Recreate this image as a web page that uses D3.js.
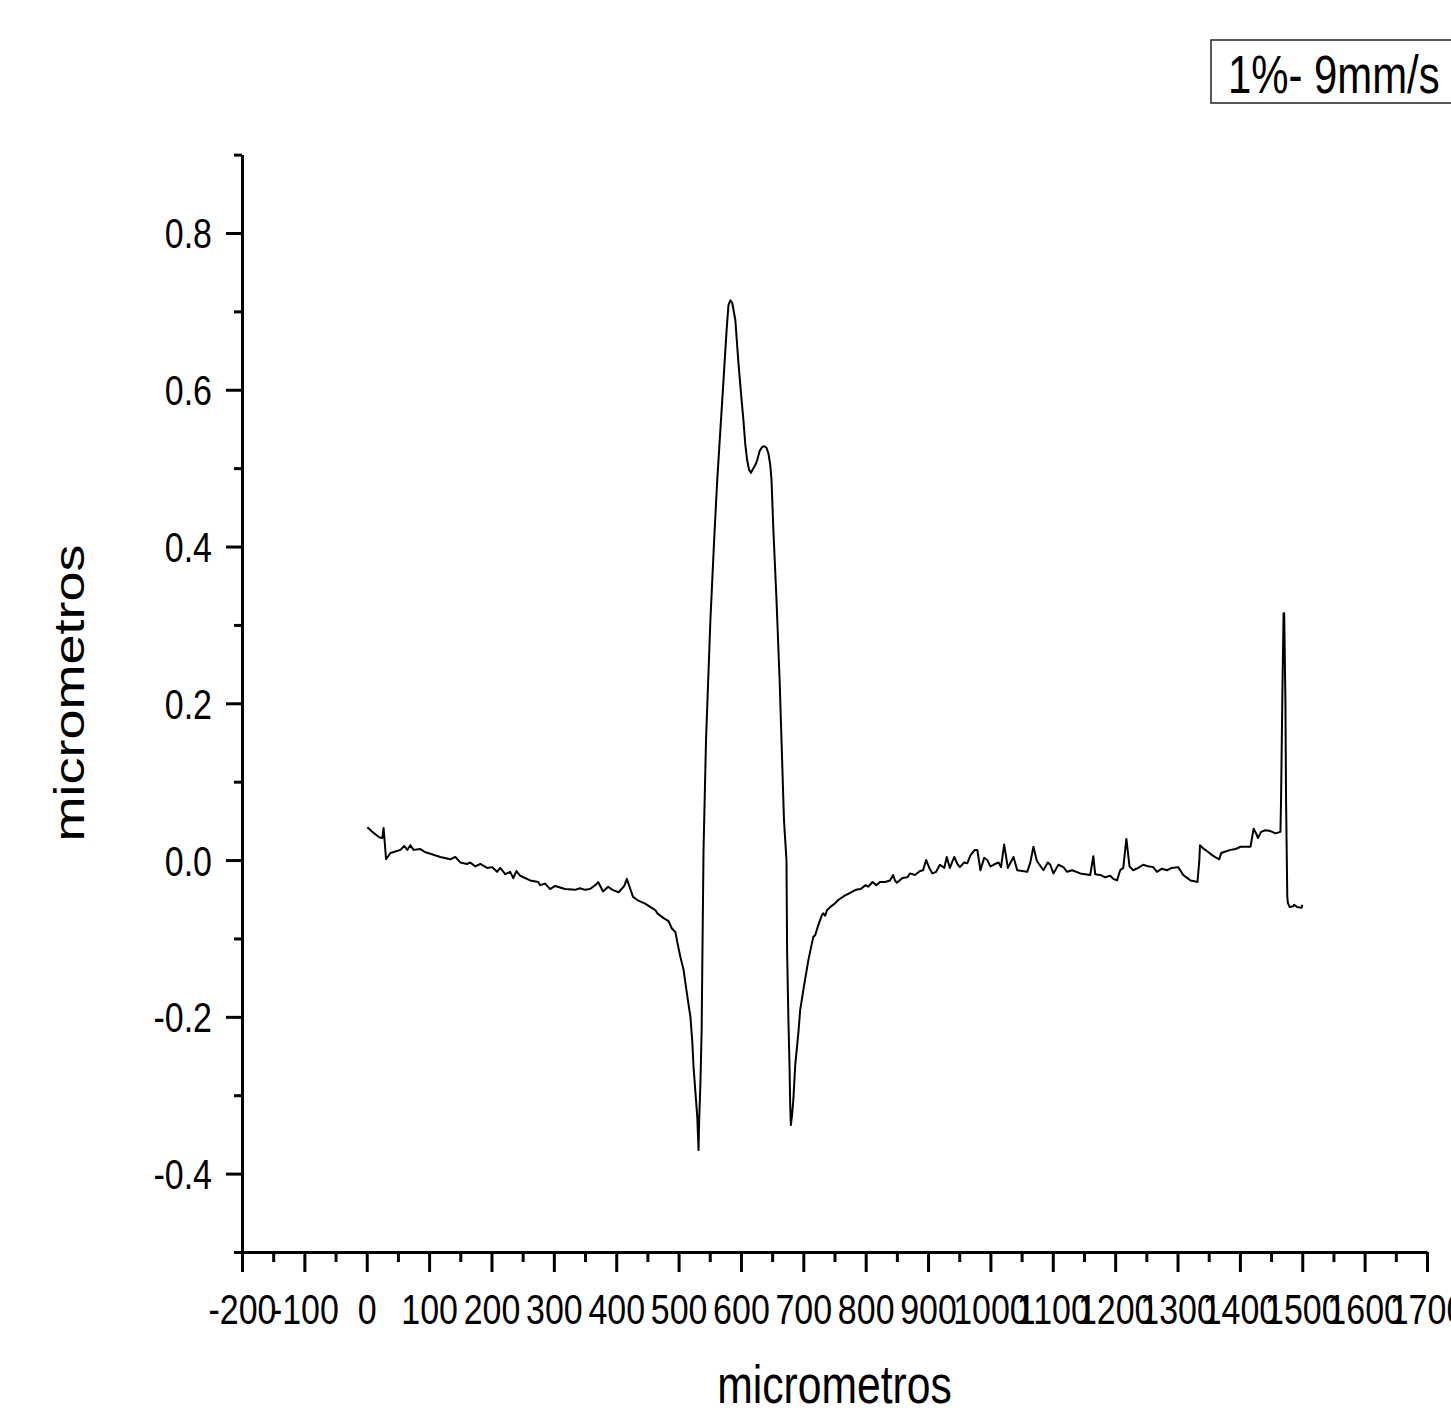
<!DOCTYPE html>
<html>
<head>
<meta charset="utf-8">
<script src="https://cdn.jsdelivr.net/npm/d3@7"></script>
<style>
  body { margin: 0; background: #fff; }
  text { font-family: "Liberation Sans", Arial, sans-serif; fill: #000; }
</style>
</head>
<body>
<svg width="1451" height="1414"></svg>
<script>
// Data: profile readings (micrometros vs micrometros)
const profileX = [1, 9, 20, 25, 27, 31, 38, 46, 54, 60, 65, 70, 75, 86, 94, 102, 118, 134, 142, 150, 161, 166, 174, 182, 193, 201, 209, 214, 222, 230, 235, 240, 246, 262, 275, 278, 286, 294, 302, 318, 334, 342, 350, 358, 368, 371, 379, 387, 394, 404, 413, 417, 420, 427, 434, 447, 455, 463, 466, 476, 484, 489, 495, 498, 503, 508, 511, 515, 519, 522, 524, 527, 530, 532, 533, 535, 537, 538, 540, 544, 551, 557, 562, 572, 577, 580, 583, 586, 591, 596, 601, 604, 607, 610, 613, 616, 620, 623, 626, 630, 634, 637, 641, 644, 647, 649, 652, 657, 662, 666, 669, 673, 674, 676, 678, 679, 680, 682, 684, 687, 692, 695, 700, 708, 716, 719, 724, 730, 732, 735, 738, 743, 751, 756, 767, 775, 784, 792, 800, 804, 811, 817, 823, 831, 839, 844, 847, 850, 859, 867, 871, 879, 887, 892, 897, 902, 907, 913, 919, 926, 930, 935, 942, 947, 951, 958, 963, 968, 975, 979, 984, 990, 995, 1000, 1005, 1013, 1017, 1022, 1028, 1037, 1043, 1051, 1059, 1064, 1069, 1074, 1077, 1085, 1092, 1096, 1101, 1109, 1117, 1123, 1131, 1144, 1152, 1160, 1165, 1168, 1176, 1184, 1192, 1197, 1203, 1208, 1213, 1218, 1223, 1229, 1237, 1245, 1253, 1261, 1267, 1275, 1283, 1291, 1301, 1306, 1309, 1316, 1321, 1327, 1332, 1335, 1336, 1341, 1348, 1356, 1362, 1367, 1370, 1377, 1385, 1393, 1401, 1409, 1417, 1422, 1426, 1429, 1434, 1441, 1449, 1457, 1465, 1466, 1468, 1470, 1471, 1473, 1474, 1476, 1477, 1480, 1485, 1487, 1492, 1499, 1500];
const profileY = [0.042, 0.036, 0.029, 0.028, 0.041, 0.001, 0.009, 0.011, 0.013, 0.018, 0.013, 0.019, 0.013, 0.014, 0.010, 0.008, 0.004, 0.001, 0.004, -0.003, -0.005, -0.003, -0.008, -0.005, -0.010, -0.009, -0.015, -0.010, -0.018, -0.015, -0.023, -0.014, -0.020, -0.026, -0.028, -0.032, -0.030, -0.037, -0.033, -0.037, -0.038, -0.036, -0.038, -0.037, -0.031, -0.028, -0.040, -0.034, -0.038, -0.041, -0.033, -0.024, -0.031, -0.047, -0.051, -0.056, -0.060, -0.064, -0.068, -0.074, -0.078, -0.087, -0.092, -0.105, -0.124, -0.140, -0.157, -0.179, -0.200, -0.232, -0.264, -0.296, -0.328, -0.370, -0.332, -0.285, -0.217, -0.137, 0.013, 0.153, 0.306, 0.408, 0.485, 0.612, 0.676, 0.708, 0.714, 0.711, 0.689, 0.634, 0.587, 0.561, 0.530, 0.510, 0.498, 0.494, 0.500, 0.504, 0.510, 0.522, 0.527, 0.528, 0.526, 0.519, 0.504, 0.485, 0.421, 0.332, 0.230, 0.128, 0.051, 0.000, -0.115, -0.200, -0.268, -0.313, -0.338, -0.325, -0.306, -0.262, -0.221, -0.191, -0.166, -0.128, -0.098, -0.096, -0.083, -0.070, -0.068, -0.071, -0.064, -0.060, -0.055, -0.051, -0.045, -0.042, -0.038, -0.037, -0.032, -0.034, -0.028, -0.032, -0.028, -0.028, -0.026, -0.019, -0.026, -0.029, -0.023, -0.022, -0.017, -0.019, -0.014, -0.013, 0.000, -0.010, -0.017, -0.015, -0.006, -0.010, 0.004, -0.010, 0.004, -0.005, -0.009, -0.003, -0.004, 0.006, 0.013, 0.013, -0.013, 0.003, 0.000, -0.008, -0.006, -0.003, -0.009, 0.020, -0.010, 0.004, -0.013, -0.014, -0.015, -0.003, 0.017, 0.000, -0.004, -0.013, -0.003, -0.006, -0.017, -0.006, -0.009, -0.015, -0.013, -0.017, -0.018, -0.019, 0.005, -0.018, -0.019, -0.022, -0.020, -0.024, -0.026, -0.013, -0.010, 0.027, -0.008, -0.013, -0.010, -0.006, -0.008, -0.009, -0.015, -0.011, -0.013, -0.010, -0.009, -0.015, -0.019, -0.023, -0.026, -0.027, -0.028, 0.000, 0.019, 0.015, 0.011, 0.006, 0.003, 0.001, 0.009, 0.011, 0.013, 0.014, 0.017, 0.017, 0.017, 0.040, 0.034, 0.028, 0.036, 0.038, 0.037, 0.034, 0.036, 0.077, 0.204, 0.315, 0.315, 0.204, 0.077, -0.047, -0.055, -0.060, -0.059, -0.057, -0.060, -0.061, -0.057];

// Axis ticks
const xTicks = d3.range(-200, 1701, 100);
const xMinor = d3.range(-150, 1700, 100);
const yTicks = [-0.4, -0.2, 0.0, 0.2, 0.4, 0.6, 0.8];
const yMinor = [-0.5, -0.3, -0.1, 0.1, 0.3, 0.5, 0.7, 0.9];

const xTitle = "micrometros";
const yTitle = "micrometros";
const legendLabel = "1%- 9mm/s";

const sx = 0.79; // the whole figure is squeezed horizontally

const svg = d3.select("svg");

const x = d3.scaleLinear().domain([-200, 1700]).range([242, 1427]);
const y = d3.scaleLinear().domain([-0.5, 0.9]).range([1252, 154.6]);

// plain hyphen for negatives, like the original
const fmtX = d => String(d);
const fmtY = d => d3.format(".1f")(d).replace("\u2212", "-");

// data line
const line = d3.line().x((d, i) => x(profileX[i])).y((d, i) => y(profileY[i]));
svg.append("path")
    .attr("d", line(profileX))
    .attr("fill", "none")
    .attr("stroke", "#000")
    .attr("stroke-width", 2)
    .attr("stroke-linejoin", "round");

// minor ticks
svg.append("g")
    .attr("transform", `translate(0,${y(-0.5)})`)
    .call(d3.axisBottom(x).tickValues(xMinor).tickSize(10).tickFormat(""))
    .call(g => g.select(".domain").remove())
    .selectAll("line").attr("stroke-width", 3);

svg.append("g")
    .attr("transform", `translate(${x(-200)},0)`)
    .call(d3.axisLeft(y).tickValues(yMinor).tickSize(8).tickFormat(""))
    .call(g => g.select(".domain").remove())
    .selectAll("line").attr("stroke-width", 3);

// x axis
const xAxis = svg.append("g")
    .attr("transform", `translate(0,${y(-0.5)})`)
    .call(d3.axisBottom(x).tickValues(xTicks).tickSize(20).tickSizeOuter(0).tickFormat(fmtX));
xAxis.select(".domain").attr("stroke-width", 3);
xAxis.selectAll("line").attr("stroke-width", 3);
xAxis.selectAll("text")
    .attr("y", null).attr("dy", null)
    .attr("font-size", 43)
    .attr("transform", `translate(0,72) scale(${sx},1)`);

// y axis
const yAxis = svg.append("g")
    .attr("transform", `translate(${x(-200)},0)`)
    .call(d3.axisLeft(y).tickValues(yTicks).tickSize(16).tickSizeOuter(0).tickFormat(fmtY));
yAxis.select(".domain").attr("stroke-width", 3);
yAxis.selectAll("line").attr("stroke-width", 3);
yAxis.selectAll("text")
    .attr("x", null).attr("dy", null)
    .attr("font-size", 43)
    .attr("transform", `translate(-30,15) scale(${sx},1)`);

// titles
svg.append("text")
    .attr("transform", `translate(${(x(-200) + x(1700)) / 2},1403) scale(${sx},1)`)
    .attr("text-anchor", "middle")
    .attr("font-size", 54)
    .text(xTitle);

svg.append("text")
    .attr("transform", `translate(84,693) scale(${sx},1) rotate(-90)`)
    .attr("text-anchor", "middle")
    .attr("font-size", 54)
    .text(yTitle);

// legend box
const legend = svg.append("g");
legend.append("rect")
    .attr("x", 1211).attr("y", 40).attr("width", 270).attr("height", 63)
    .attr("fill", "#fff").attr("stroke", "#222").attr("stroke-width", 1.5);
legend.append("text")
    .attr("transform", `translate(1228,93) scale(${sx},1)`)
    .attr("font-size", 53)
    .text(legendLabel);
</script>
</body>
</html>
